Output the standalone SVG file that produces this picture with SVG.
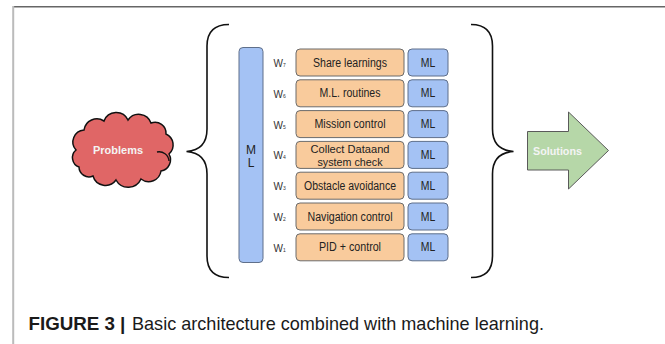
<svg xmlns="http://www.w3.org/2000/svg" width="665" height="344" viewBox="0 0 665 344">
<style>
text{font-family:"Liberation Sans",Arial,sans-serif;}
.task{fill:#f9cb9c;stroke:#6b6b6b;stroke-width:1}
.blue{fill:#a4c2f4;stroke:#5f6f8a;stroke-width:1}
.lbl{font-size:12px;fill:#222;text-anchor:middle}
.lbl2{font-size:10.5px;fill:#222;text-anchor:middle}
.w{font-size:10px;fill:#333}
.ws{font-size:5px}
.brace{fill:none;stroke:#111;stroke-width:1.6}
.white{fill:#f4f4f4;font-weight:bold;font-size:11px;text-anchor:middle}
</style>
<rect width="665" height="344" fill="#fff"/>
<g id="frame">
<line x1="13" y1="6.7" x2="665" y2="6.7" stroke="#666" stroke-width="1.5"/>
<line x1="13.2" y1="6" x2="13.2" y2="344" stroke="#bbb" stroke-width="2"/>
</g>
<g id="problems">
<path d="M76,150 A12 12 0 0 1 84,130 A13 13 0 0 1 104,121 A13 13 0 0 1 128,120 A13 13 0 0 1 151,123 A11 11 0 0 1 166,134 A12 12 0 0 1 169,154 A11.5 11.5 0 0 1 161,171 A12.5 12.5 0 0 1 141,179 A14 14 0 0 1 116,180 A13 13 0 0 1 93,176 A10 10 0 0 1 79,167 A10 10 0 0 1 76,150 Z" fill="#e06666" stroke="#111" stroke-width="1.5"/>
<path d="M157,152 A10 10 0 0 1 169,161" fill="none" stroke="#111" stroke-width="1.3"/>
<text class="white" x="118" y="153.5">Problems</text>
</g>
<g id="connectors">
<path class="brace" d="M229,24.5 Q207,24.5 207,46 V129 Q207,150 186.5,151.5 Q207,153 207,174 V256 Q207,277.5 229,277.5"/>
<path class="brace" d="M471,24.5 Q492.5,24.5 492.5,46 V129 Q492.5,150 513.5,151.5 Q492.5,153 492.5,174 V256 Q492.5,277.5 471,277.5"/>
</g>
<g id="ml-bar">
<rect class="blue" x="239" y="47.5" width="24" height="215" rx="4"/>
<text class="lbl" x="251" y="153.5" font-size="11">M</text>
<text class="lbl" x="251" y="166.5" font-size="11">L</text>
</g>
<g id="row7">
<text class="w" x="273.5" y="67">W<tspan class="ws">7</tspan></text>
<rect class="task" x="296" y="49" width="108" height="27" rx="4"/>
<text class="lbl" x="350" y="66.5" textLength="74" lengthAdjust="spacingAndGlyphs">Share learnings</text>
<rect class="blue" x="408" y="49" width="40" height="27" rx="4"/>
<text class="lbl" x="428" y="66.5" textLength="14.5" lengthAdjust="spacingAndGlyphs">ML</text>
</g>
<g id="row6">
<text class="w" x="273.5" y="97.8">W<tspan class="ws">6</tspan></text>
<rect class="task" x="296" y="79.8" width="108" height="27" rx="4"/>
<text class="lbl" x="350" y="97.3" textLength="61" lengthAdjust="spacingAndGlyphs">M.L. routines</text>
<rect class="blue" x="408" y="79.8" width="40" height="27" rx="4"/>
<text class="lbl" x="428" y="97.3" textLength="14.5" lengthAdjust="spacingAndGlyphs">ML</text>
</g>
<g id="row5">
<text class="w" x="273.5" y="128.6">W<tspan class="ws">5</tspan></text>
<rect class="task" x="296" y="110.6" width="108" height="27" rx="4"/>
<text class="lbl" x="350" y="128.1" textLength="71" lengthAdjust="spacingAndGlyphs">Mission control</text>
<rect class="blue" x="408" y="110.6" width="40" height="27" rx="4"/>
<text class="lbl" x="428" y="128.1" textLength="14.5" lengthAdjust="spacingAndGlyphs">ML</text>
</g>
<g id="row4">
<text class="w" x="273.5" y="159.4">W<tspan class="ws">4</tspan></text>
<rect class="task" x="296" y="141.4" width="108" height="27" rx="4"/>
<text class="lbl2" x="350" y="153" textLength="79" lengthAdjust="spacingAndGlyphs">Collect  Dataand</text>
<text class="lbl2" x="350" y="165.5" textLength="65" lengthAdjust="spacingAndGlyphs">system check</text>
<rect class="blue" x="408" y="141.4" width="40" height="27" rx="4"/>
<text class="lbl" x="428" y="158.9" textLength="14.5" lengthAdjust="spacingAndGlyphs">ML</text>
</g>
<g id="row3">
<text class="w" x="273.5" y="190.2">W<tspan class="ws">3</tspan></text>
<rect class="task" x="296" y="172.2" width="108" height="27" rx="4"/>
<text class="lbl" x="350" y="189.7" textLength="92" lengthAdjust="spacingAndGlyphs">Obstacle avoidance</text>
<rect class="blue" x="408" y="172.2" width="40" height="27" rx="4"/>
<text class="lbl" x="428" y="189.7" textLength="14.5" lengthAdjust="spacingAndGlyphs">ML</text>
</g>
<g id="row2">
<text class="w" x="273.5" y="221">W<tspan class="ws">2</tspan></text>
<rect class="task" x="296" y="203" width="108" height="27" rx="4"/>
<text class="lbl" x="350" y="220.5" textLength="85" lengthAdjust="spacingAndGlyphs">Navigation control</text>
<rect class="blue" x="408" y="203" width="40" height="27" rx="4"/>
<text class="lbl" x="428" y="220.5" textLength="14.5" lengthAdjust="spacingAndGlyphs">ML</text>
</g>
<g id="row1">
<text class="w" x="273.5" y="251.8">W<tspan class="ws">1</tspan></text>
<rect class="task" x="296" y="233.8" width="108" height="27" rx="4"/>
<text class="lbl" x="350" y="251.3" textLength="62" lengthAdjust="spacingAndGlyphs">PID + control</text>
<rect class="blue" x="408" y="233.8" width="40" height="27" rx="4"/>
<text class="lbl" x="428" y="251.3" textLength="14.5" lengthAdjust="spacingAndGlyphs">ML</text>
</g>
<g id="solutions">
<path d="M527.5,131.5 H568.5 V112 L608.5,150.5 L568.5,189 V170 H527.5 Z" fill="#b6d7a8" stroke="#5a5a5a" stroke-width="1"/>
<text class="white" x="557.5" y="154.5" textLength="49" lengthAdjust="spacingAndGlyphs">Solutions</text>
</g>
<g id="caption">
<text x="28.5" y="330" font-size="19" font-weight="bold" fill="#1a1a1a" textLength="86.5" lengthAdjust="spacingAndGlyphs">FIGURE 3</text>
<text x="120" y="330" font-size="19" font-weight="bold" fill="#1a1a1a">|</text>
<text x="132" y="330" font-size="19" fill="#1a1a1a" textLength="412" lengthAdjust="spacingAndGlyphs">Basic architecture combined with machine learning.</text>
</g>
</svg>
